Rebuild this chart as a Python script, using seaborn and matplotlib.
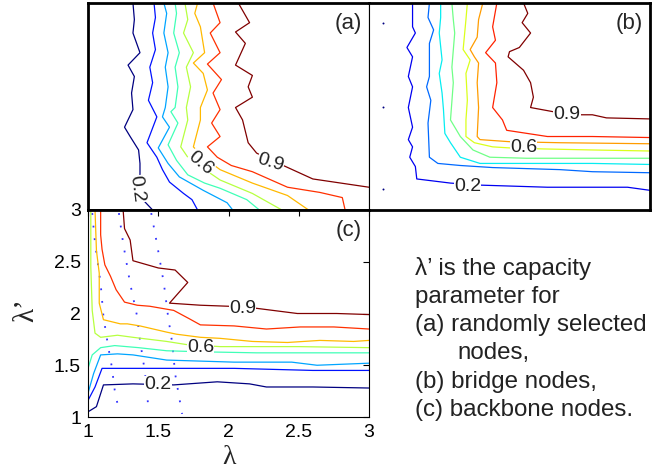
import matplotlib
matplotlib.use("Agg")
import matplotlib.pyplot as plt
import numpy as np
import seaborn as sns

# contour levels, shared by the three panels
levels = [0.2, 0.3, 0.4, 0.5, 0.6, 0.7, 0.8, 0.9]

# (a) randomly selected nodes: one (lambda, lambda') polyline per level
a_lam = [
    [1.32, 1.33, 1.32, 1.37, 1.285, 1.33, 1.31, 1.32, 1.26, 1.30, 1.36, 1.37, 1.37, 1.39, 1.46],
    [1.47, 1.48, 1.46, 1.48, 1.44, 1.46, 1.43, 1.49, 1.42, 1.49, 1.53, 1.58, 1.68, 1.74, 1.78],
    [1.54, 1.56, 1.54, 1.57, 1.55, 1.57, 1.55, 1.53, 1.58, 1.50, 1.57, 1.65, 1.82, 1.99, 2.03],
    [1.62, 1.63, 1.61, 1.65, 1.62, 1.64, 1.62, 1.59, 1.64, 1.57, 1.63, 1.71, 1.83, 1.94, 2.13, 2.22],
    [1.69, 1.71, 1.68, 1.75, 1.70, 1.73, 1.70, 1.71, 1.66, 1.71, 1.80, 1.94, 2.17, 2.38],
    [1.78, 1.76, 1.80, 1.83, 1.75, 1.82, 1.85, 1.80, 1.80, 1.75, 1.82, 1.90, 1.94, 2.17, 2.42, 2.57],
    [1.89, 1.94, 1.87, 1.94, 1.85, 1.95, 1.89, 1.94, 1.88, 1.94, 1.85, 1.92, 2.02, 2.17, 2.42, 2.65, 2.81, 2.83],
    [2.07, 2.15, 2.05, 2.12, 2.05, 2.17, 2.14, 2.17, 2.05, 2.10, 2.14, 2.20, 2.30, 2.39, 2.60, 3.0],
]
a_lamp = [
    [3.0, 2.84, 2.71, 2.52, 2.40, 2.29, 2.13, 1.97, 1.80, 1.71, 1.58, 1.45, 1.32, 1.10, 1.0],
    [3.0, 2.86, 2.71, 2.55, 2.38, 2.23, 2.06, 1.90, 1.65, 1.51, 1.39, 1.27, 1.16, 1.10, 1.0],
    [3.0, 2.90, 2.71, 2.52, 2.38, 2.19, 1.99, 1.90, 1.80, 1.60, 1.45, 1.32, 1.19, 1.07, 1.0],
    [3.0, 2.90, 2.71, 2.52, 2.38, 2.19, 1.99, 1.95, 1.84, 1.63, 1.48, 1.34, 1.26, 1.21, 1.10, 1.0],
    [3.0, 2.84, 2.71, 2.52, 2.38, 2.19, 1.99, 1.87, 1.61, 1.51, 1.42, 1.29, 1.16, 1.0],
    [3.0, 2.90, 2.77, 2.52, 2.42, 2.32, 2.16, 1.99, 1.87, 1.61, 1.51, 1.43, 1.39, 1.26, 1.14, 1.0],
    [3.0, 2.81, 2.71, 2.52, 2.41, 2.26, 2.13, 1.97, 1.84, 1.71, 1.61, 1.51, 1.43, 1.37, 1.22, 1.17, 1.12, 1.0],
    [3.0, 2.81, 2.72, 2.61, 2.40, 2.30, 2.19, 2.09, 1.99, 1.87, 1.65, 1.55, 1.48, 1.43, 1.30, 1.22],
]

# (b) bridge nodes
b_lam = [
    [1.31, 1.31, 1.33, 1.27, 1.31, 1.28, 1.31, 1.28, 1.31, 1.28, 1.31, 1.29, 1.33, 1.34, 1.58, 1.80, 2.27, 2.84, 3.0],
    [1.43, 1.42, 1.46, 1.43, 1.43, 1.41, 1.44, 1.42, 1.43, 1.49, 1.65, 1.88, 2.12, 2.36, 2.59, 3.0],
    [1.51, 1.51, 1.50, 1.52, 1.50, 1.52, 1.53, 1.54, 1.58, 1.65, 1.79, 2.12, 2.59, 3.0],
    [1.59, 1.60, 1.61, 1.59, 1.60, 1.58, 1.65, 1.74, 1.86, 2.12, 2.59, 3.0],
    [1.70, 1.69, 1.67, 1.72, 1.69, 1.70, 1.69, 1.69, 1.75, 1.88, 2.00, 2.24, 2.59, 3.0],
    [1.81, 1.78, 1.77, 1.72, 1.75, 1.78, 1.77, 1.78, 1.77, 1.79, 2.00, 2.36, 3.0],
    [1.91, 1.88, 1.90, 1.83, 1.90, 1.91, 1.88, 1.95, 1.98, 2.27, 2.59, 3.0],
    [2.10, 2.13, 2.09, 2.15, 2.07, 2.00, 1.99, 2.10, 2.15, 2.17, 2.15, 2.31, 2.50, 2.59, 2.69, 3.0],
]
b_lamp = [
    [3.0, 2.77, 2.71, 2.57, 2.48, 2.29, 2.19, 1.99, 1.80, 1.68, 1.61, 1.51, 1.42, 1.30, 1.26, 1.24, 1.22, 1.22, 1.19],
    [3.0, 2.86, 2.74, 2.61, 2.29, 2.19, 2.06, 1.84, 1.51, 1.45, 1.43, 1.41, 1.40, 1.39, 1.37, 1.36],
    [3.0, 2.86, 2.71, 2.45, 2.32, 2.13, 1.97, 1.74, 1.65, 1.51, 1.45, 1.45, 1.45, 1.44],
    [3.0, 2.84, 2.71, 2.38, 2.23, 1.87, 1.71, 1.58, 1.51, 1.50, 1.50, 1.50],
    [3.0, 2.84, 2.55, 2.45, 2.32, 2.06, 1.87, 1.71, 1.65, 1.61, 1.60, 1.59, 1.58, 1.57],
    [3.0, 2.84, 2.67, 2.55, 2.48, 2.42, 2.23, 1.99, 1.71, 1.68, 1.66, 1.65, 1.64],
    [3.0, 2.77, 2.64, 2.52, 2.42, 2.23, 1.99, 1.87, 1.77, 1.71, 1.71, 1.70],
    [3.0, 2.90, 2.81, 2.71, 2.57, 2.53, 2.48, 2.35, 2.23, 2.09, 1.99, 1.95, 1.92, 1.92, 1.89, 1.88],
]
b_dot_lam = [1.10, 1.10, 1.10]
b_dot_lamp = [2.81, 2.0, 1.20]

# (c) backbone nodes
c_lam = [
    [1.0, 1.06, 1.11, 1.32, 1.61, 1.92, 2.15, 2.27, 2.6, 3.0],
    [1.0, 1.05, 1.10, 1.32, 1.56, 2.04, 2.6, 3.0],
    [1.0, 1.04, 1.09, 1.21, 1.32, 1.56, 2.04, 2.45, 2.63, 3.0],
    [1.0, 1.03, 1.09, 1.19, 1.36, 1.56, 1.80, 2.2, 2.6, 3.0],
    [1.02, 1.02, 1.03, 1.05, 1.09, 1.21, 1.32, 1.56, 1.70, 1.94, 2.5, 3.0],
    [1.05, 1.06, 1.08, 1.08, 1.11, 1.23, 1.28, 1.37, 1.56, 1.63, 1.80, 1.94, 2.17, 2.42, 2.65, 2.89, 3.0],
    [1.09, 1.09, 1.10, 1.12, 1.16, 1.20, 1.26, 1.35, 1.44, 1.61, 1.72, 1.80, 2.04, 2.27, 2.51, 2.75, 3.0],
    [1.25, 1.26, 1.30, 1.32, 1.50, 1.62, 1.71, 1.58, 1.80, 2.0, 2.20, 2.49, 2.77, 3.0],
]
c_lamp = [
    [1.05, 1.10, 1.31, 1.32, 1.31, 1.34, 1.32, 1.29, 1.29, 1.28],
    [1.16, 1.29, 1.47, 1.47, 1.47, 1.47, 1.45, 1.45],
    [1.23, 1.42, 1.60, 1.61, 1.60, 1.55, 1.53, 1.53, 1.50, 1.52],
    [1.47, 1.60, 1.67, 1.69, 1.67, 1.64, 1.63, 1.62, 1.62, 1.62],
    [3.0, 2.45, 2.03, 1.81, 1.77, 1.79, 1.77, 1.73, 1.70, 1.68, 1.68, 1.67],
    [3.0, 2.61, 2.39, 2.10, 1.94, 1.90, 1.90, 1.88, 1.82, 1.80, 1.77, 1.76, 1.73, 1.72, 1.74, 1.73, 1.74],
    [3.0, 2.76, 2.62, 2.47, 2.36, 2.23, 2.11, 2.08, 2.07, 2.03, 1.95, 1.89, 1.88, 1.85, 1.87, 1.87, 1.85],
    [3.0, 2.82, 2.71, 2.51, 2.44, 2.42, 2.30, 2.10, 2.08, 2.07, 2.05, 2.0, 2.0, 1.99],
]
# dotted blue guide curves in (c)
c_dot_lam = [
    [1.03, 1.05, 1.09, 1.11, 1.14, 1.17, 1.19, 1.22],
    [1.22, 1.25, 1.30, 1.35, 1.37, 1.40, 1.42, 1.43],
    [1.45, 1.49, 1.54, 1.57, 1.60, 1.62, 1.64, 1.67],
]
c_dot_lamp = [
    [2.97, 2.68, 2.29, 1.97, 1.71, 1.48, 1.26, 1.06],
    [2.97, 2.68, 2.29, 1.97, 1.74, 1.48, 1.26, 1.06],
    [2.97, 2.68, 2.29, 1.97, 1.71, 1.42, 1.26, 1.03],
]

# inline contour labels
lab_text = ["0.2", "0.6", "0.9"]
a_lab_lam = [1.345, 1.80, 2.30]
a_lab_lamp = [1.20, 1.45, 1.46]
a_lab_rot = [-82, -40, -17]
b_lab_lam = [1.70, 2.10, 2.41]
b_lab_lamp = [1.23, 1.60, 1.92]
c_lab_lam = [1.50, 1.80, 2.10]
c_lab_lamp = [1.31, 1.67, 2.05]

ticks = [1, 1.5, 2, 2.5, 3]
tick_labels = ["1", "1.5", "2", "2.5", "3"]

note_lines = ["\u03bb\u2019 is the capacity", "parameter for", "(a) randomly selected",
              "nodes,", "(b) bridge nodes,", "(c) backbone nodes."]

sns.set_style("white")
plt.rcParams['font.family'] = ['Liberation Sans', 'DejaVu Sans']

jet = matplotlib.colormaps['jet']
cols_ac = [jet(t) for t in np.linspace(0, 1, len(levels))]
cols_b = [jet(t) for t in np.linspace(0.1, 1, len(levels))]

W, H = 667, 476
fig = plt.figure(figsize=(W / 100, H / 100), dpi=100)


def px_axes(x0, y0, x1, y1):
    return fig.add_axes([x0 / W, 1 - y1 / H, (x1 - x0) / W, (y1 - y0) / H])


def draw_lines(ax, xs, ys, cols):
    for x, y, c in zip(xs, ys, cols):
        sns.lineplot(x=x, y=y, sort=False, estimator=None, color=c, lw=0.9, ax=ax)


def draw_labels(ax, xs, ys, rots):
    for t, x, y, r in zip(lab_text, xs, ys, rots):
        ax.text(x, y, t, fontsize=14, rotation=r, ha="center", va="center",
                rotation_mode="anchor", color="#222222",
                bbox=dict(fc="white", ec="none", pad=0.2))


def frame(ax, widths):
    for side, w in zip(["left", "top", "right", "bottom"], widths):
        ax.spines[side].set_linewidth(w)
        ax.spines[side].set_color("black")
        ax.spines[side].set_visible(True)
    ax.set_xlim(1, 3)
    ax.set_ylim(1, 3)
    ax.set_xlabel("")
    ax.set_ylabel("")


ax_a = px_axes(88, 3, 369, 210)
ax_b = px_axes(369, 3, 650, 210)
ax_c = px_axes(88, 210, 369, 417)

draw_lines(ax_a, a_lam, a_lamp, cols_ac)
draw_labels(ax_a, a_lab_lam, a_lab_lamp, a_lab_rot)
frame(ax_a, [2, 2, 0.8, 2])
ax_a.set_xticks([])
ax_a.set_yticks([])
ax_a.text(0.975, 0.9, "(a)", transform=ax_a.transAxes, ha="right", va="center", fontsize=16)

draw_lines(ax_b, b_lam, b_lamp, cols_b)
draw_labels(ax_b, b_lab_lam, b_lab_lamp, [0, 0, 0])
sns.scatterplot(x=b_dot_lam, y=b_dot_lamp, s=2, color="navy", linewidth=0, ax=ax_b)
frame(ax_b, [0.8, 2, 2, 2])
ax_b.set_xticks([])
ax_b.set_yticks([])
ax_b.text(0.975, 0.9, "(b)", transform=ax_b.transAxes, ha="right", va="center", fontsize=16)

for x, y in zip(c_dot_lam, c_dot_lamp):
    sns.lineplot(x=x, y=y, sort=False, estimator=None, color="#3333ff", lw=1.3,
                 linestyle=(0, (1, 6)), ax=ax_c)
draw_lines(ax_c, c_lam, c_lamp, cols_ac)
draw_labels(ax_c, c_lab_lam, c_lab_lamp, [0, 0, 0])
frame(ax_c, [0.8, 2, 0.8, 0.8])
ax_c.set_xticks(ticks)
ax_c.set_xticklabels(tick_labels)
ax_c.set_yticks(ticks)
ax_c.set_yticklabels(tick_labels)
ax_c.tick_params(direction="in", length=4, width=0.8, top=True, right=True,
                 labelsize=14, pad=5, colors="black")
ax_c.text(0.975, 0.9, "(c)", transform=ax_c.transAxes, ha="right", va="center", fontsize=16)

fig.text(229 / W, 1 - 457 / H, "\u03bb", fontsize=20, ha="center", va="center",
         family=['Liberation Serif', 'DejaVu Serif'])
fig.text(26 / W, 1 - 310 / H, "\u03bb\u2019", fontsize=21, ha="center", va="center",
         rotation=90, family=['Liberation Serif', 'DejaVu Serif'])

note_x = [415, 415, 415, 457, 415, 415]
note_y = [268, 297, 325, 353, 382, 410]
for t, x, y in zip(note_lines, note_x, note_y):
    fig.text(x / W, 1 - y / H, t, fontsize=17.4, ha="left", va="center", color="#222222")

fig.savefig("out.png", dpi=100)
